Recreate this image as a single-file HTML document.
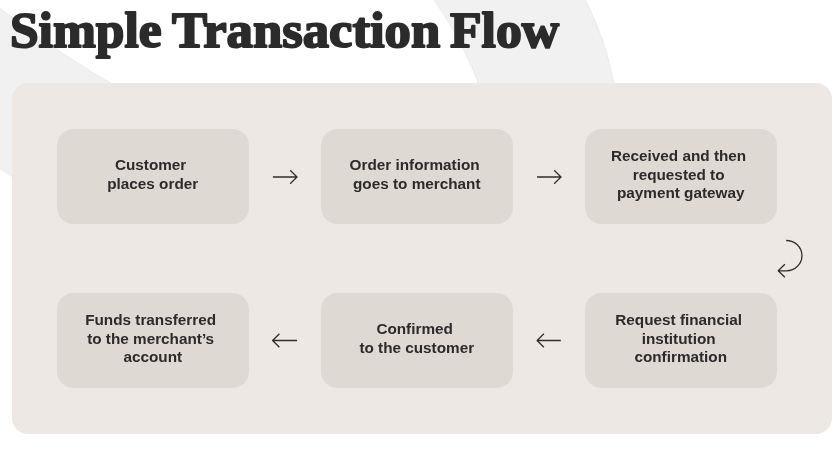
<!DOCTYPE html>
<html>
<head>
<meta charset="utf-8">
<style>
html,body{margin:0;padding:0;}
body{width:839px;height:460px;overflow:hidden;background:#ffffff;position:relative;font-family:"Liberation Sans",sans-serif;}
#bg{position:absolute;left:0;top:0;}
.box{position:absolute;left:12px;top:83.2px;width:820px;height:350.7px;border-radius:16px;background:#ede8e4;}
.card{position:absolute;width:191.5px;height:95.4px;border-radius:16.5px;background:#dfd9d3;display:flex;align-items:center;justify-content:center;text-align:center;font-weight:bold;font-size:15.3px;line-height:18.8px;color:#2b2b2b;letter-spacing:0px;box-sizing:border-box;padding-bottom:3.4px;will-change:transform;}
.r1{top:129.2px;}
.r2{top:292.6px;}
.c1{left:56.8px;}
.c2{left:321.3px;}
.c3{left:585.4px;}
#arrows{position:absolute;left:0;top:0;}
</style>
</head>
<body>
<svg id="bg" width="839" height="460" viewBox="0 0 839 460">
  <path d="M0 8.3 A952.5 952.5 0 0 0 130 94 L130 250 L12 176.6 L0 168.7 Z" fill="#f1f1f1"/>
  <path d="M434.2 0 A402.5 402.5 0 0 1 481.1 90 L615.1 90 A300.5 300.5 0 0 0 585.4 0 Z" fill="#f1f1f1"/>
  <g fill="none" stroke="#e3e3e3" stroke-width="0.6">
    <path d="M0 8.3 A952.5 952.5 0 0 0 130 94"/>
    <path d="M0 168.7 L12 176.6"/>
    <path d="M434.2 0 A402.5 402.5 0 0 1 481.1 90"/>
    <path d="M585.4 0 A300.5 300.5 0 0 1 615.1 90"/>
  </g>
</svg>
<svg id="title" width="839" height="70" viewBox="0 0 839 70" style="position:absolute;left:0;top:0;">
  <g font-family="Liberation Serif" font-weight="bold" font-size="52" fill="#2b2b2b" stroke="#2b2b2b" stroke-width="2" stroke-linejoin="round">
    <text transform="translate(10 47.1) scale(0.99 0.96)">Simple</text>
    <text transform="translate(172 47.1) scale(1.013 0.96)">Transaction</text>
    <text transform="translate(450 47.1) scale(0.995 0.96)">Flow</text>
  </g>
</svg>
<div class="box"></div>
<div class="card r1 c1">Customer&nbsp;<br>places order</div>
<div class="card r1 c2">Order information&nbsp;<br>goes to merchant</div>
<div class="card r1 c3">Received and then&nbsp;<br>requested to&nbsp;<br>payment gateway</div>
<div class="card r2 c1">Funds transferred&nbsp;<br>to the merchant’s&nbsp;<br>account</div>
<div class="card r2 c2">Confirmed&nbsp;<br>to the customer</div>
<div class="card r2 c3">Request financial&nbsp;<br>institution&nbsp;<br>confirmation</div>
<svg id="arrows" width="839" height="460" viewBox="0 0 839 460" fill="none" stroke="#2e2e2e" stroke-width="1.3" stroke-linecap="butt" stroke-linejoin="round">
  <path d="M272.9 177 H297 M290.2 170.3 L297 177 L290.2 183.7"/>
  <path d="M537 177 H561 M554.2 170.3 L561 177 L554.2 183.7"/>
  <path d="M297 340.5 H272.6 M279.4 333.8 L272.6 340.5 L279.4 347.2"/>
  <path d="M560.8 340.5 H537.1 M543.9 333.8 L537.1 340.5 L543.9 347.2"/>
  <path d="M786.2 240.5 A15.6 15.15 0 0 1 786.5 270.8 H778.2 M784.9 264.3 L778.2 270.8 L784.9 277.3"/>
</svg>
</body>
</html>
